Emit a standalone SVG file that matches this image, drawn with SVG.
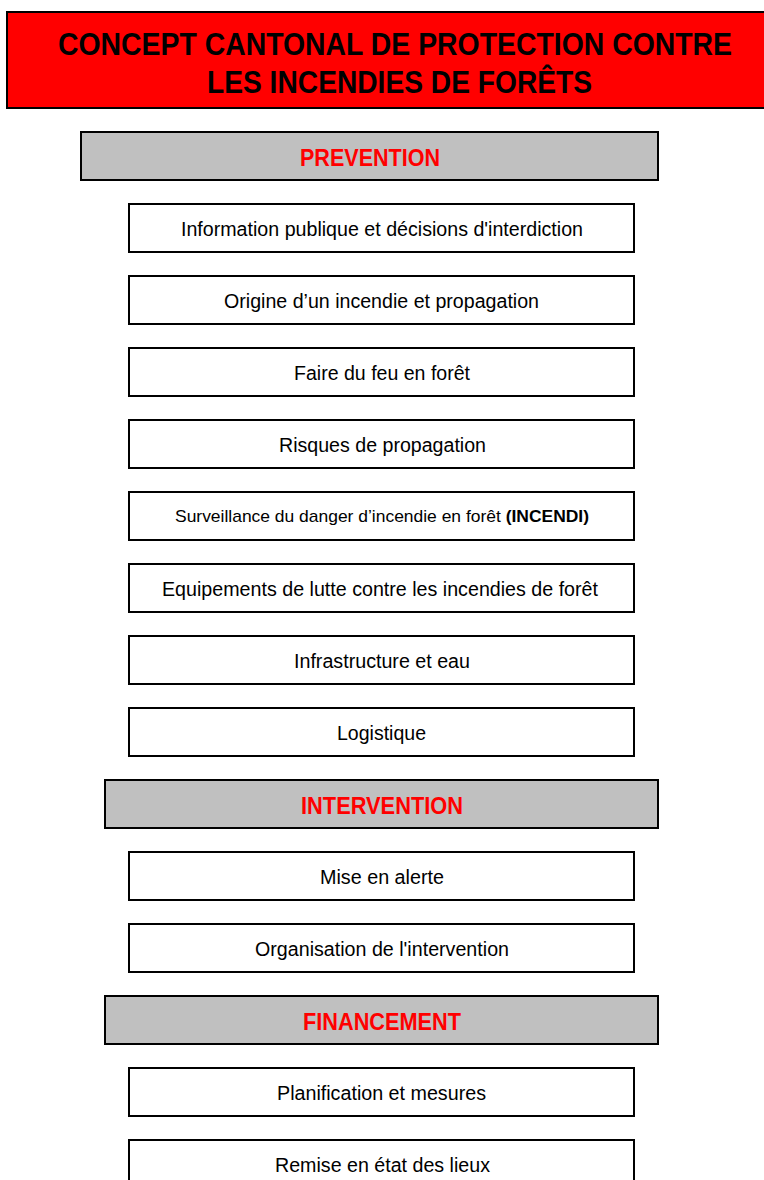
<svg xmlns="http://www.w3.org/2000/svg" width="764" height="1180" viewBox="0 0 764 1180">
<style>
.t{font-family:"Liberation Sans Narrow","Arial Narrow","Liberation Sans",sans-serif;text-anchor:middle}
.title{font-size:31px;font-weight:bold;fill:#000}
.hdr rect{fill:#c0c0c0;stroke:#000;stroke-width:2}
.hdr text{font-size:23px;font-weight:bold;fill:#ff0000}
.item rect{fill:#fff;stroke:#000;stroke-width:2}
.item text{font-size:20px;fill:#000}
</style>
<rect width="764" height="1180" fill="#fff"/>
<g id="title">
<rect x="7" y="12" width="758" height="96" fill="#ff0000" stroke="#000" stroke-width="2"/>
<text class="t title" transform="translate(395,55) scale(0.87,1)" x="0" y="0" textLength="774.7" lengthAdjust="spacingAndGlyphs">CONCEPT CANTONAL DE PROTECTION CONTRE</text>
<text class="t title" transform="translate(399.5,93) scale(0.87,1)" x="0" y="0" textLength="442.5" lengthAdjust="spacingAndGlyphs">LES INCENDIES DE FORÊTS</text>
</g>
<g id="prevention" class="hdr"><rect x="81" y="132" width="577" height="48"/><text class="t" x="370" y="166" textLength="140" lengthAdjust="spacingAndGlyphs">PREVENTION</text></g>
<g id="n1" class="item"><rect x="129" y="204" width="505" height="48"/><text class="t" x="382" y="236" textLength="402" lengthAdjust="spacingAndGlyphs">Information publique et décisions d'interdiction</text></g>
<g id="n2" class="item"><rect x="129" y="276" width="505" height="48"/><text class="t" x="381.5" y="308" textLength="315" lengthAdjust="spacingAndGlyphs">Origine d’un incendie et propagation</text></g>
<g id="n3" class="item"><rect x="129" y="348" width="505" height="48"/><text class="t" x="382" y="380" textLength="176" lengthAdjust="spacingAndGlyphs">Faire du feu en forêt</text></g>
<g id="n4" class="item"><rect x="129" y="420" width="505" height="48"/><text class="t" x="382.5" y="452" textLength="207" lengthAdjust="spacingAndGlyphs">Risques de propagation</text></g>
<g id="n5" class="item"><rect x="129" y="492" width="505" height="48"/><text class="t" x="382" y="522" style="font-size:17px" textLength="414" lengthAdjust="spacingAndGlyphs">Surveillance du danger d’incendie en forêt <tspan font-weight="bold">(INCENDI)</tspan></text></g>
<g id="n6" class="item"><rect x="129" y="564" width="505" height="48"/><text class="t" x="380" y="596" textLength="436" lengthAdjust="spacingAndGlyphs">Equipements de lutte contre les incendies de forêt</text></g>
<g id="n7" class="item"><rect x="129" y="636" width="505" height="48"/><text class="t" x="382" y="668" textLength="176" lengthAdjust="spacingAndGlyphs">Infrastructure et eau</text></g>
<g id="n8" class="item"><rect x="129" y="708" width="505" height="48"/><text class="t" x="381.5" y="740" textLength="89" lengthAdjust="spacingAndGlyphs">Logistique</text></g>
<g id="intervention" class="hdr"><rect x="105" y="780" width="553" height="48"/><text class="t" x="382" y="814" textLength="162" lengthAdjust="spacingAndGlyphs">INTERVENTION</text></g>
<g id="n9" class="item"><rect x="129" y="852" width="505" height="48"/><text class="t" x="382" y="884" textLength="124" lengthAdjust="spacingAndGlyphs">Mise en alerte</text></g>
<g id="n10" class="item"><rect x="129" y="924" width="505" height="48"/><text class="t" x="382" y="956" textLength="254" lengthAdjust="spacingAndGlyphs">Organisation de l'intervention</text></g>
<g id="financement" class="hdr"><rect x="105" y="996" width="553" height="48"/><text class="t" x="382" y="1030" textLength="158" lengthAdjust="spacingAndGlyphs">FINANCEMENT</text></g>
<g id="n11" class="item"><rect x="129" y="1068" width="505" height="48"/><text class="t" x="381.5" y="1100" textLength="209" lengthAdjust="spacingAndGlyphs">Planification et mesures</text></g>
<g id="n12" class="item"><rect x="129" y="1140" width="505" height="48"/><text class="t" x="382.5" y="1172" textLength="215" lengthAdjust="spacingAndGlyphs">Remise en état des lieux</text></g>
<g id="connectors"/>
</svg>
